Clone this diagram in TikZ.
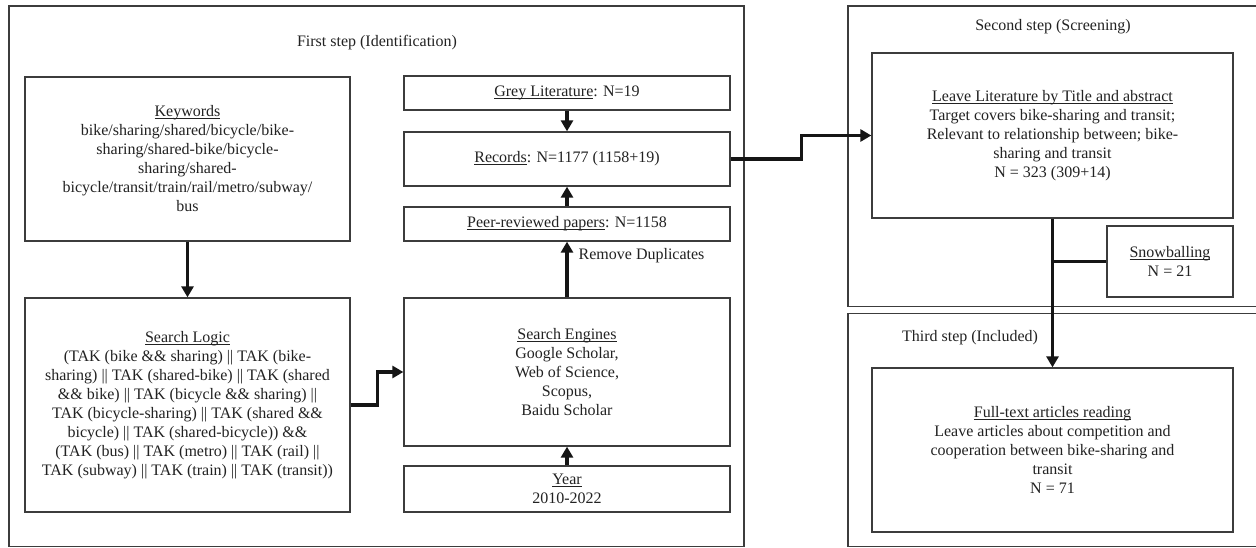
\documentclass[tikz,border=0pt]{standalone}
\usepackage{fontspec}
\setmainfont{Liberation Serif}
\usetikzlibrary{arrows.meta}
\definecolor{boxline}{HTML}{3C3C3C}
\definecolor{txt}{HTML}{222222}
\definecolor{arrowc}{HTML}{151515}
\newcommand\myul[1]{\setbox0\hbox{#1}\leavevmode\rlap{\rule[-2.3pt]{\wd0}{0.8pt}}\box0}
\begin{document}
\begin{tikzpicture}[x=1pt,y=-1pt,
  box/.style={draw=boxline,line width=1.3pt,rectangle,inner sep=2pt,align=center,text=txt,
    font=\fontsize{16}{19}\selectfont},
  frame/.style={draw=boxline,line width=1.1pt},
  titletext/.style={text=txt,font=\fontsize{16}{19}\selectfont,inner sep=0pt},
  arr/.style={draw=arrowc,line width=3.4pt,-{Triangle[length=11pt,width=12pt]}},
  plainline/.style={draw=arrowc,line width=3.4pt}]
\useasboundingbox (0,0) rectangle (1256,548);
\fill[white] (0,0) rectangle (1256,548);
% frames
\draw[frame] (9,6) rectangle (744,546.5);
\draw[frame] (1257,6) -- (848,6) -- (848,306.5) -- (1257,306.5);
\draw[frame] (1257,313.5) -- (848,313.5) -- (848,546.5) -- (1257,546.5);
% titles
\node[titletext] (t1) at (377,43) {First step (Identification)};
\node[titletext] (t2) at (1053,27) {Second step (Screening)};
\node[titletext] (t3) at (970,338) {Third step (Included)};
% boxes
\node[box,minimum width=325pt,minimum height=164pt] (kw) at (187.5,159)
  {\myul{Keywords}\\bike/sharing/shared/bicycle/bike-\\sharing/shared-bike/bicycle-\\sharing/shared-\\bicycle/transit/train/rail/metro/subway/\\bus};
\node[box,minimum width=325pt,minimum height=214pt] (sl) at (187.5,405)
  {\myul{Search Logic}\\(TAK (bike \&\& sharing) || TAK (bike-\\sharing) || TAK (shared-bike) || TAK (shared\\\&\& bike) || TAK (bicycle \&\& sharing) ||\\TAK (bicycle-sharing) || TAK (shared \&\&\\bicycle) || TAK (shared-bicycle)) \&\&\\(TAK (bus) || TAK (metro) || TAK (rail) ||\\TAK (subway) || TAK (train) || TAK (transit))};
\node[box,minimum width=326pt,minimum height=34pt] (grey) at (567,93)
  {\myul{Grey Literature}: N=19};
\node[box,minimum width=326pt,minimum height=54pt] (rec) at (567,159)
  {\myul{Records}: N=1177 (1158+19)};
\node[box,minimum width=326pt,minimum height=34pt] (peer) at (567,224)
  {\myul{Peer-reviewed papers}: N=1158};
\node[box,minimum width=326pt,minimum height=148pt] (se) at (567,372)
  {\myul{Search Engines}\\Google Scholar,\\Web of Science,\\Scopus,\\Baidu Scholar};
\node[box,minimum width=326pt,minimum height=46pt] (yr) at (567,489)
  {\myul{Year}\\2010-2022};
\node[box,minimum width=361pt,minimum height=165pt] (ll) at (1052.5,135.5)
  {\myul{Leave Literature by Title and abstract}\\Target covers bike-sharing and transit;\\Relevant to relationship between; bike-\\sharing and transit\\N = 323 (309+14)};
\node[box,minimum width=126pt,minimum height=71pt] (snow) at (1170,261.5)
  {\myul{Snowballing}\\N = 21};
\node[box,minimum width=361pt,minimum height=164pt] (ft) at (1052.5,450)
  {\myul{Full-text articles reading}\\Leave articles about competition and\\cooperation between bike-sharing and\\transit\\N = 71};
% connectors
\draw[arr] (kw) -- (sl);
\draw[arr] (sl.east) -- ++(27,0) |- (se.west);
\draw[arr] (yr) -- (se);
\draw[arr] (se) -- node[pos=0.75,right,xshift=10pt,titletext] (rd) {Remove Duplicates} (peer);
\draw[arr] (peer) -- (rec);
\draw[arr] (grey) -- (rec);
\draw[arr] (rec.east) -- ++(71,0) |- (ll.west);
\draw[arr] (ll) -- (ft);
\draw[plainline] (snow.west) -- (snow.west -| ll.south);
\end{tikzpicture}
\end{document}
